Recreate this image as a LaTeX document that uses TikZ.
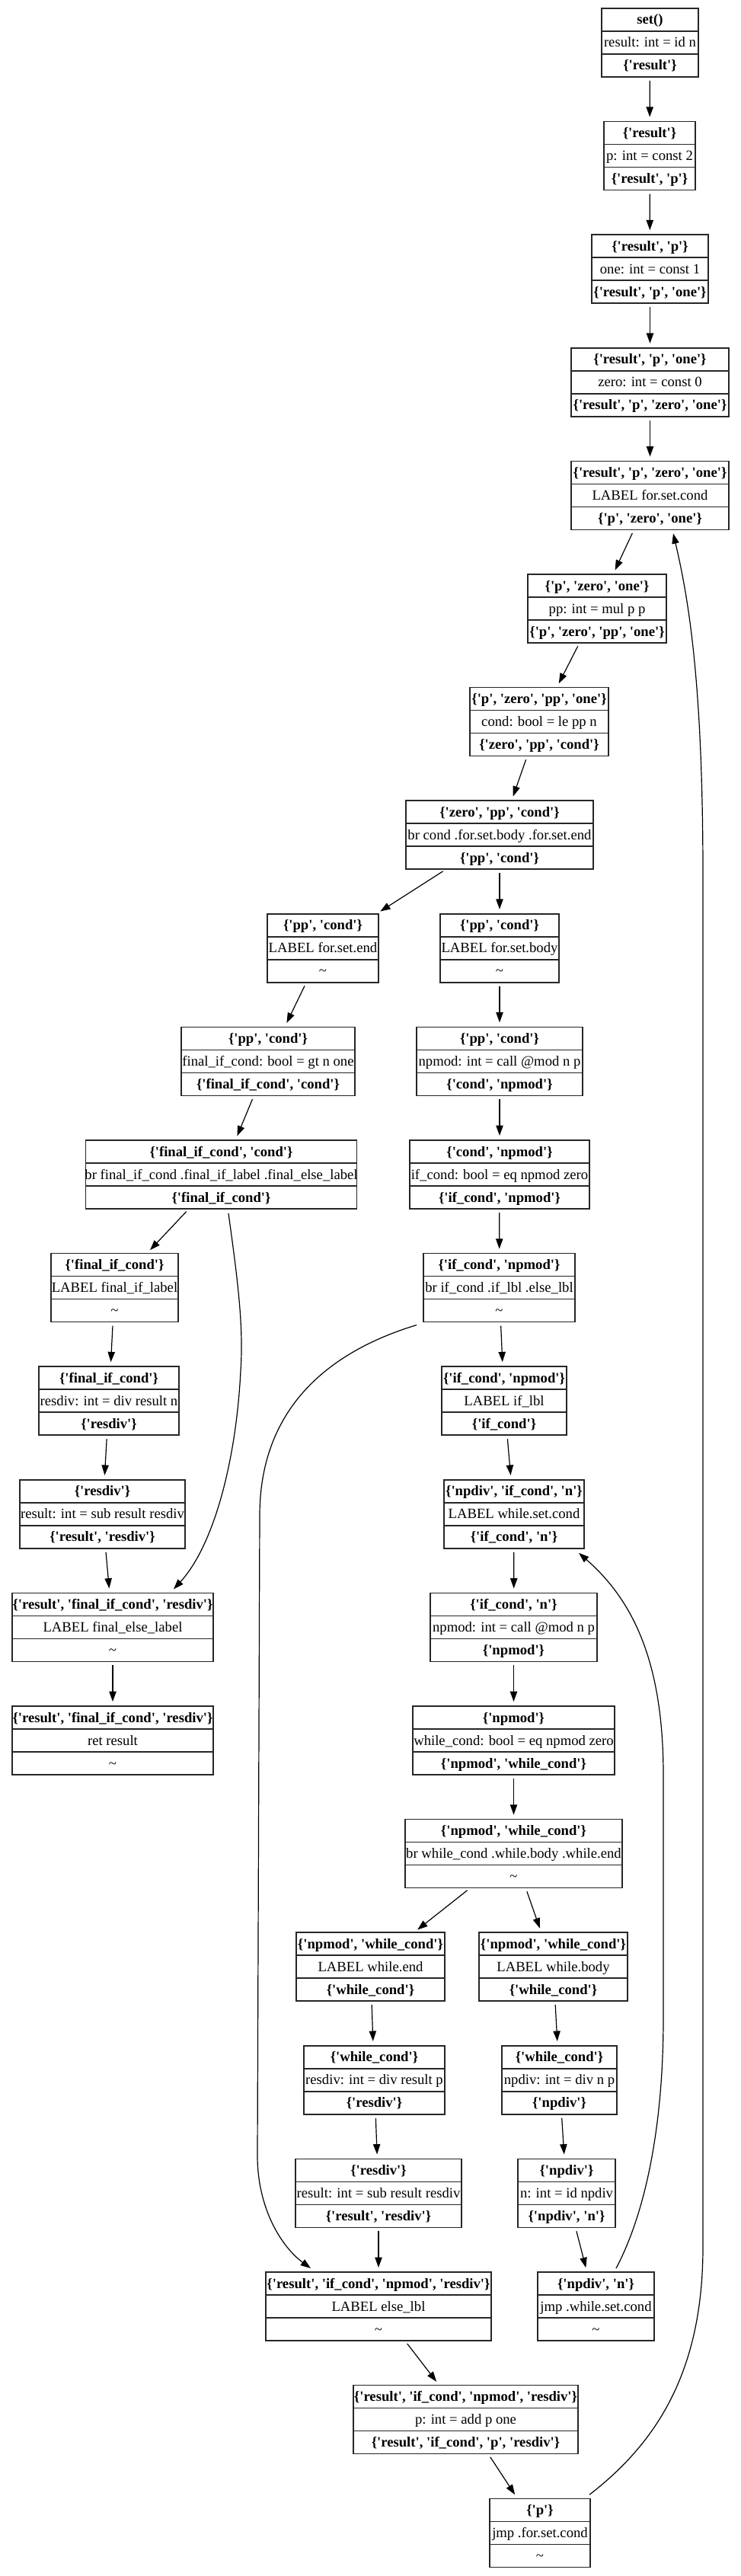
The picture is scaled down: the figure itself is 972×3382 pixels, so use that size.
\documentclass[tikz,border=0pt]{standalone}
\usepackage{fontspec}
\setmainfont{Liberation Serif}[Ligatures=TeXOff]
\usetikzlibrary{arrows.meta}
\newcommand\blk[7]{%
  \node[blk, minimum width=#4*0.75pt] (#1) at (#2,{56+148.6*#3}) {};
  \draw[sep] ([yshift=-22.5pt]#1.north west) -- ([yshift=-22.5pt]#1.north east);
  \draw[sep] ([yshift=-45pt]#1.north west) -- ([yshift=-45pt]#1.north east);
  \node[txt,anchor=base,font=\fontsize{14pt}{16pt}\selectfont\bfseries] (#1a) at ([yshift=-15.75pt]#1.north) {#5};
  \node[txt,anchor=base] (#1b) at ([yshift=-38.25pt]#1.north) {#6};
  \node[txt,anchor=base,font=\fontsize{14pt}{16pt}\selectfont\bfseries] (#1c) at ([yshift=-60.75pt]#1.north) {#7};
}
\newcommand\tl{{\mdseries\textasciitilde}}
\begin{document}
\begin{tikzpicture}[x=0.75pt,y=-0.75pt,
  blk/.style={draw=black!85, line width=1.1pt, minimum height=67.5pt, inner sep=0pt, outer sep=0pt},
  sep/.style={draw=black!85, line width=1.1pt},
  txt/.style={inner sep=0pt, font=\fontsize{14pt}{16pt}\selectfont},
  edge/.style={line width=0.9pt, -{Triangle[length=10pt,width=7pt]}, shorten <=3.75pt, shorten >=4.5pt},
  curve/.style={line width=0.9pt, -{Triangle[length=10pt,width=7pt]}}]
\fill[white] (0,0) rectangle (972,3382);
\useasboundingbox (0,0) rectangle (972,3382);

\blk{n0}{853.5}{0}{127}{set()}{result: int = id n}{\{'result'\}}
\blk{n1}{853}{1}{120}{\{'result'\}}{p: int = const 2}{\{'result', 'p'\}}
\blk{n2}{853.5}{2}{153}{\{'result', 'p'\}}{one: int = const 1}{\{'result', 'p', 'one'\}}
\blk{n3}{853.5}{3}{207}{\{'result', 'p', 'one'\}}{zero: int = const 0}{\{'result', 'p', 'zero', 'one'\}}
\blk{n4}{853.5}{4}{207}{\{'result', 'p', 'zero', 'one'\}}{LABEL for.set.cond}{\{'p', 'zero', 'one'\}}
\blk{n5}{784}{5}{182}{\{'p', 'zero', 'one'\}}{pp: int = mul p p}{\{'p', 'zero', 'pp', 'one'\}}
\blk{n6}{708}{6}{182}{\{'p', 'zero', 'pp', 'one'\}}{cond: bool = le pp n}{\{'zero', 'pp', 'cond'\}}
\blk{n7}{656}{7}{246}{\{'zero', 'pp', 'cond'\}}{br cond .for.set.body .for.set.end}{\{'pp', 'cond'\}}
\blk{n8l}{424}{8}{146}{\{'pp', 'cond'\}}{LABEL for.set.end}{\tl}
\blk{n8r}{656}{8}{156}{\{'pp', 'cond'\}}{LABEL for.set.body}{\tl}
\blk{n9l}{352}{9}{228}{\{'pp', 'cond'\}}{final\_if\_cond: bool = gt n one}{\{'final\_if\_cond', 'cond'\}}
\blk{n9r}{656}{9}{218}{\{'pp', 'cond'\}}{npmod: int = call @mod n p}{\{'cond', 'npmod'\}}
\blk{n10l}{290.5}{10}{356}{\{'final\_if\_cond', 'cond'\}}{br final\_if\_cond .final\_if\_label .final\_else\_label}{\{'final\_if\_cond'\}}
\blk{n10r}{656}{10}{236}{\{'cond', 'npmod'\}}{if\_cond: bool = eq npmod zero}{\{'if\_cond', 'npmod'\}}
\blk{n11l}{150.5}{11}{167}{\{'final\_if\_cond'\}}{LABEL final\_if\_label}{\tl}
\blk{n11r}{655.5}{11}{199}{\{'if\_cond', 'npmod'\}}{br if\_cond .if\_lbl .else\_lbl}{\tl}
\blk{n12l}{143}{12}{184}{\{'final\_if\_cond'\}}{resdiv: int = div result n}{\{'resdiv'\}}
\blk{n12r}{662}{12}{164}{\{'if\_cond', 'npmod'\}}{LABEL if\_lbl}{\{'if\_cond'\}}
\blk{n13l}{134.5}{13}{217}{\{'resdiv'\}}{result: int = sub result resdiv}{\{'result', 'resdiv'\}}
\blk{n13r}{675}{13}{184}{\{'npdiv', 'if\_cond', 'n'\}}{LABEL while.set.cond}{\{'if\_cond', 'n'\}}
\blk{n14l}{148}{14}{264}{\{'result', 'final\_if\_cond', 'resdiv'\}}{LABEL final\_else\_label}{\tl}
\blk{n14r}{674.5}{14}{219}{\{'if\_cond', 'n'\}}{npmod: int = call @mod n p}{\{'npmod'\}}
\blk{n15l}{148}{15}{264}{\{'result', 'final\_if\_cond', 'resdiv'\}}{ret result}{\tl}
\blk{n15r}{674.5}{15}{265}{\{'npmod'\}}{while\_cond: bool = eq npmod zero}{\{'npmod', 'while\_cond'\}}
\blk{n16}{674.5}{16}{285}{\{'npmod', 'while\_cond'\}}{br while\_cond .while.body .while.end}{\tl}
\blk{n17l}{486.5}{17}{195}{\{'npmod', 'while\_cond'\}}{LABEL while.end}{\{'while\_cond'\}}
\blk{n17r}{726.5}{17}{195}{\{'npmod', 'while\_cond'\}}{LABEL while.body}{\{'while\_cond'\}}
\blk{n18l}{491.5}{18}{185}{\{'while\_cond'\}}{resdiv: int = div result p}{\{'resdiv'\}}
\blk{n18r}{734.5}{18}{151}{\{'while\_cond'\}}{npdiv: int = div n p}{\{'npdiv'\}}
\blk{n19l}{497}{19}{218}{\{'resdiv'\}}{result: int = sub result resdiv}{\{'result', 'resdiv'\}}
\blk{n19r}{744}{19}{128}{\{'npdiv'\}}{n: int = id npdiv}{\{'npdiv', 'n'\}}
\blk{n20l}{497}{20}{296}{\{'result', 'if\_cond', 'npmod', 'resdiv'\}}{LABEL else\_lbl}{\tl}
\blk{n20r}{782.5}{20}{153}{\{'npdiv', 'n'\}}{jmp .while.set.cond}{\tl}
\blk{n21}{611.5}{21}{295}{\{'result', 'if\_cond', 'npmod', 'resdiv'\}}{p: int = add p one}{\{'result', 'if\_cond', 'p', 'resdiv'\}}
\blk{n22}{709}{22}{132}{\{'p'\}}{jmp .for.set.cond}{\tl}

\foreach \a/\b in {n0/n1,n1/n2,n2/n3,n3/n4,n4/n5,n5/n6,n6/n7,n7/n8l,n7/n8r,
  n8l/n9l,n8r/n9r,n9l/n10l,n9r/n10r,n10l/n11l,n10r/n11r,n11l/n12l,n11r/n12r,
  n12l/n13l,n12r/n13r,n13l/n14l,n13r/n14r,n14l/n15l,n14r/n15r,n15r/n16,
  n16/n17l,n16/n17r,n17l/n18l,n17r/n18r,n18l/n19l,n18r/n19r,n19l/n20l,n19r/n20r,
  n20l/n21,n21/n22}
  \draw[edge] (\a) -- (\b);

% br final_if_cond -> LABEL final_else_label
\draw[curve] ([shift={(9.5,6)}]n10l.south) .. controls (312,1680) and (320,1740) .. (316,1800)
  .. controls (310,1920) and (280,2030) .. ([shift={(80,-5)}]n14l.north);
% br if_cond -> LABEL else_lbl
\draw[curve] ([shift={(-9,4)}]n11r.south west) .. controls (430,1775) and (341,1850) .. (341,1990)
  -- (338,2830) .. controls (338,2900) and (370,2950) .. ([shift={(59,-5)}]n20l.north west);
% jmp .while.set.cond -> LABEL while.set.cond
\draw[curve] ([shift={(26.5,-5)}]n20r.north) .. controls (845,2910) and (871,2800) .. (871,2650)
  -- (871,2330) .. controls (871,2180) and (830,2100) .. ([shift={(85,6)}]n13r.south);
% jmp .for.set.cond -> LABEL for.set.cond
\draw[curve] ([shift={(-1,-5)}]n22.north east) .. controls (865,3205) and (923,3110) .. (923,2950)
  -- (923,1150) .. controls (923,900) and (905,790) .. ([shift={(30.5,5)}]n4.south);
\end{tikzpicture}
\end{document}
